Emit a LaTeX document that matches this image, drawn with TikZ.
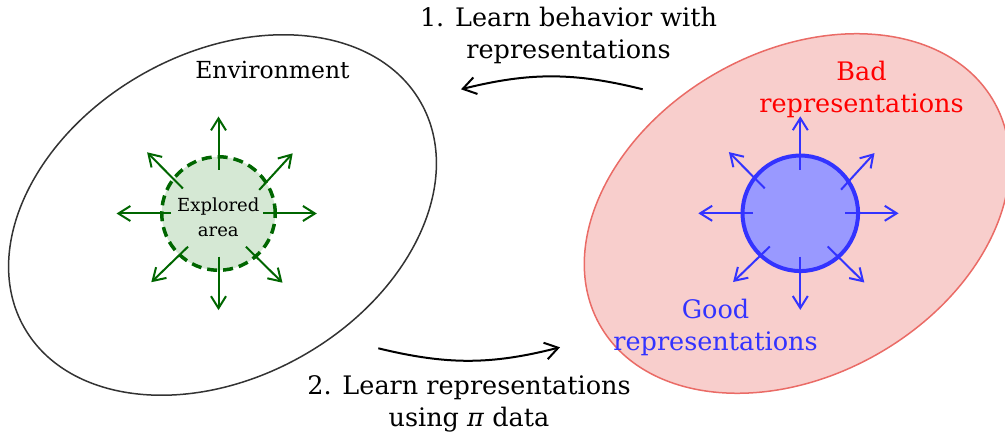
\documentclass[tikz,border=0pt]{standalone}
\usepackage{fontspec}
\setmainfont{DejaVu Serif}
\usetikzlibrary{arrows.meta}

\definecolor{envline}{HTML}{333333}
\definecolor{expgreen}{HTML}{006600}
\definecolor{expfill}{HTML}{D5E8D4}
\definecolor{goodblue}{HTML}{3333FF}
\definecolor{goodfill}{HTML}{9999FF}
\definecolor{badfill}{HTML}{F8CECC}
\definecolor{badline}{HTML}{EA6B66}
\definecolor{badred}{HTML}{FF0000}

\begin{document}
\begin{tikzpicture}[x=1pt,y=1pt,
  lbl/.style={font=\fontsize{25.5}{32}\selectfont, align=center, anchor=base, inner sep=0pt},
  envlbl/.style={font=\fontsize{23.5}{30}\selectfont, anchor=base, inner sep=0pt},
  smalllbl/.style={font=\fontsize{18}{25}\selectfont, align=center, anchor=base, inner sep=0pt},
  greenray/.style={expgreen, line width=2pt, -{Straight Barb[length=12pt,width=15pt]}},
  blueray/.style={goodblue, line width=2pt, -{Straight Barb[length=12pt,width=15pt]}},
  conn/.style={black, line width=2pt, -{Straight Barb[length=13pt,width=17pt]}},
]
\useasboundingbox (0,0) rectangle (1005,440);
\clip (0,0) rectangle (1005,440);

% environment and representation space
\draw[envline, line width=1.5pt, rotate around={29.5:(222.5,225)}]
  (222.5,225) ellipse [x radius=228, y radius=162];
\draw[badline, fill=badfill, line width=1.5pt, rotate around={29.5:(797,226.5)}]
  (797,226.5) ellipse [x radius=226.5, y radius=162];

% explored area
\node[circle, minimum size=113.5pt, inner sep=0pt, fill=expfill, draw=expgreen,
      line width=3.5pt, dash pattern=on 10pt off 6pt] (explored) at (218.5,226.5) {};
% good representations
\node[circle, minimum size=115.5pt, inner sep=0pt, fill=goodfill, draw=goodblue,
      line width=4pt] (good) at (800.3,226.7) {};

% outward rays around both circles (start offset / tip offset)
\foreach \sx/\sy/\tx/\ty in {0/43.5/0/97, 0/-43.2/0/-96.6, -47.3/0/-102/0, 44.7/0/98.3/0,
    -35.6/25/-71.4/61.2, 40.7/23.6/74.2/60.2, -30.5/-33.2/-67.2/-68.7, 27.4/-33.2/64/-69.2}{
  \draw[greenray] ([shift={(\sx,\sy)}]explored.center) -- ([shift={(\tx,\ty)}]explored.center);
  \draw[blueray] ([shift={(\sx,\sy)}]good.center) -- ([shift={(\tx,\ty)}]good.center);
}

% labels (base anchor sits on the last line)
\node[smalllbl] (explabel) at (218.3,203.3) {Explored\\area};
\node[envlbl] (envlabel) at (272.5,361) {Environment};
\node[lbl, text=badred] (badlabel) at (861.5,327) {Bad\\representations};
\node[lbl, text=goodblue] (goodlabel) at (715.5,90) {Good\\representations};
\node[lbl] (steponelabel) at (568.5,381) {1. Learn behavior with\\representations};
\node[lbl] (steptwolabel) at (469,13.3) {2. Learn representations\\using \textit{π} data};

% the two learning steps
\coordinate (onefrom) at (642.7,350.7);
\coordinate (oneto) at (461,350.7);
\draw[conn] (onefrom) to[bend right=14] (oneto);
\coordinate (twofrom) at (378.3,91.7);
\coordinate (twoto) at (560,92.7);
\draw[conn] (twofrom) to[bend right=14] (twoto);
\end{tikzpicture}
\end{document}
